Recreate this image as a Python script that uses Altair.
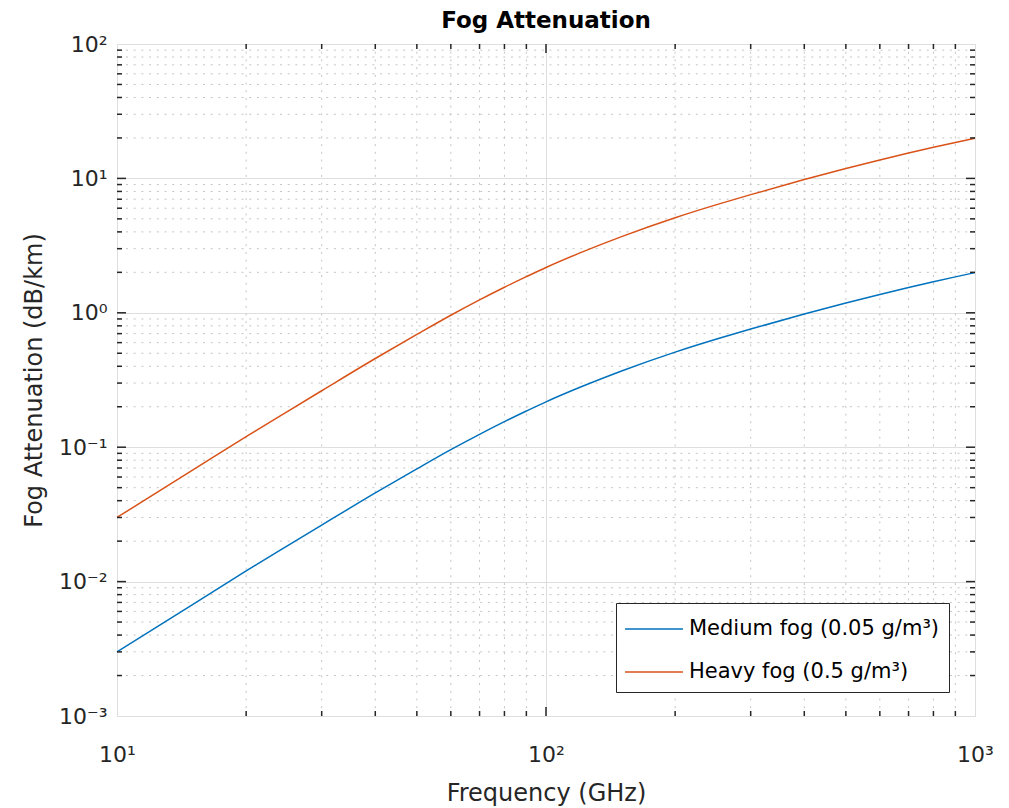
import altair as alt
import pandas as pd

# ---- data ----
freq_ghz = [10, 15, 20, 25, 30, 40, 50, 60, 70, 80, 90, 100, 120, 150, 200, 250,
            300, 400, 500, 600, 700, 800, 900, 1000]
heavy_fog = [0.030, 0.0675, 0.120, 0.185, 0.263, 0.457, 0.690, 0.959, 1.247, 1.549, 1.858,
             2.175, 2.79, 3.69, 5.10, 6.38, 7.57, 9.80, 11.84, 13.70, 15.43, 17.03, 18.51, 19.9]
medium_fog = [0.0030, 0.00675, 0.0120, 0.0185, 0.0263, 0.0457, 0.0690, 0.0959, 0.1247,
              0.1549, 0.1858, 0.2175, 0.279, 0.369, 0.510, 0.638, 0.757, 0.980, 1.184,
              1.370, 1.543, 1.703, 1.851, 1.99]
series_names = ["Medium fog (0.05 g/m³)", "Heavy fog (0.5 g/m³)"]
series_colors = ["#0072BD", "#D95319"]

x_major = [10, 100, 1000]
x_tick_labels = ["10¹", "10²", "10³"]
y_major = [0.001, 0.01, 0.1, 1, 10, 100]
y_tick_labels = ["10⁻³", "10⁻²", "10⁻¹", "10⁰", "10¹", "10²"]
x_minor = [20, 30, 40, 50, 60, 70, 80, 90, 200, 300, 400, 500, 600, 700, 800, 900]
y_minor = [k * 10.0 ** e for e in range(-3, 2) for k in range(2, 10)]
x_major_inner = [100]
y_major_inner = [0.01, 0.1, 1, 10]

W, H = 858, 672
FONT = "DejaVu Sans"
AX = "#262626"

rows = []
for f, m in zip(freq_ghz, medium_fog):
    rows.append({"f": f, "a": m, "s": series_names[0]})
for f, h in zip(freq_ghz, heavy_fog):
    rows.append({"f": f, "a": h, "s": series_names[1]})
df = pd.DataFrame(rows)

xs = alt.Scale(type="log", domain=[10, 1000], nice=False)
ys = alt.Scale(type="log", domain=[0.001, 100], nice=False)

x_expr = "[" + ",".join("'%s'" % t for t in x_tick_labels) + "][round(log(datum.value)/LN10)-1]"
y_expr = "[" + ",".join("'%s'" % t for t in y_tick_labels) + "][round(log(datum.value)/LN10)+3]"

x_axis = alt.Axis(values=x_major, labelExpr=x_expr, grid=True, gridColor="#dedede",
                  ticks=False, domain=False, labelFontSize=22, labelFont=FONT,
                  labelColor=AX, labelPadding=28, labelFlush=False, labelOverlap=False,
                  titleFont=FONT, titleFontSize=24, titleFontWeight="normal",
                  titleColor=AX, titlePadding=16)
y_axis = alt.Axis(values=y_major, labelExpr=y_expr, grid=True, gridColor="#dedede",
                  ticks=False, domain=False, labelFontSize=22, labelFont=FONT,
                  labelColor=AX, labelPadding=10, labelFlush=False, labelOverlap=False,
                  titleFont=FONT, titleFontSize=24, titleFontWeight="normal",
                  titleColor=AX, titlePadding=12)
X_T = "Frequency (GHz)"
Y_T = "Fog Attenuation (dB/km)"


def X(field="f"):
    return alt.X(field + ":Q", scale=xs, axis=x_axis, title=X_T)


def Y(field="a"):
    return alt.Y(field + ":Q", scale=ys, axis=y_axis, title=Y_T)


dfx_minor = pd.DataFrame({"f": x_minor})
dfy_minor = pd.DataFrame({"a": y_minor})
dfx_major = pd.DataFrame({"f": x_major_inner})
dfy_major = pd.DataFrame({"a": y_major_inner})

dot = [2, 5.7]
minor_v = alt.Chart(dfx_minor).mark_rule(color="#c4c4c4", strokeWidth=1, strokeDash=dot).encode(x=X())
minor_h = alt.Chart(dfy_minor).mark_rule(color="#c4c4c4", strokeWidth=1, strokeDash=dot).encode(y=Y())

lines = alt.Chart(df).mark_line(strokeWidth=1.5, interpolate="monotone").encode(
    x=X(), y=Y(),
    color=alt.Color("s:N", scale=alt.Scale(domain=series_names, range=series_colors),
                    legend=alt.Legend(title=None, orient="none", legendX=499, legendY=559,
                                      direction="vertical",
                                      symbolType="M-1.933,0H1.933", symbolSize=900,
                                      symbolStrokeWidth=1.5, symbolOffset=12,
                                      labelOffset=19, padding=10, rowPadding=17,
                                      strokeColor=AX, fillColor="white",
                                      labelFont=FONT, labelFontSize=21, labelColor="#000",
                                      labelLimit=0)),
    order=alt.Order("f:Q"),
)

tk = dict(color=AX, strokeWidth=1.5)
tx_min_b = alt.Chart(dfx_minor).mark_rule(**tk).encode(x=X(), y=alt.value(H), y2=alt.value(H - 5))
tx_min_t = alt.Chart(dfx_minor).mark_rule(**tk).encode(x=X(), y=alt.value(0), y2=alt.value(5))
tx_maj_b = alt.Chart(dfx_major).mark_rule(**tk).encode(x=X(), y=alt.value(H), y2=alt.value(H - 9))
tx_maj_t = alt.Chart(dfx_major).mark_rule(**tk).encode(x=X(), y=alt.value(0), y2=alt.value(9))
ty_min_l = alt.Chart(dfy_minor).mark_rule(**tk).encode(y=Y(), x=alt.value(0), x2=alt.value(5))
ty_min_r = alt.Chart(dfy_minor).mark_rule(**tk).encode(y=Y(), x=alt.value(W), x2=alt.value(W - 5))
ty_maj_l = alt.Chart(dfy_major).mark_rule(**tk).encode(y=Y(), x=alt.value(0), x2=alt.value(9))
ty_maj_r = alt.Chart(dfy_major).mark_rule(**tk).encode(y=Y(), x=alt.value(W), x2=alt.value(W - 9))

chart = alt.layer(
    minor_v, minor_h, lines,
    tx_min_b, tx_min_t, tx_maj_b, tx_maj_t,
    ty_min_l, ty_min_r, ty_maj_l, ty_maj_r,
).properties(
    width=W, height=H,
    title=alt.TitleParams("Fog Attenuation", font=FONT, fontSize=23, fontWeight="bold",
                          color="#000", offset=0, anchor="middle", frame="group"),
    autosize=alt.AutoSizeParams(type="none"),
    padding={"left": 109, "top": 36, "right": 26, "bottom": 92},
).configure_view(stroke=AX, strokeWidth=1.5).configure(background="white")

chart.save("out.html", embed_options={"renderer": "svg", "actions": False})
